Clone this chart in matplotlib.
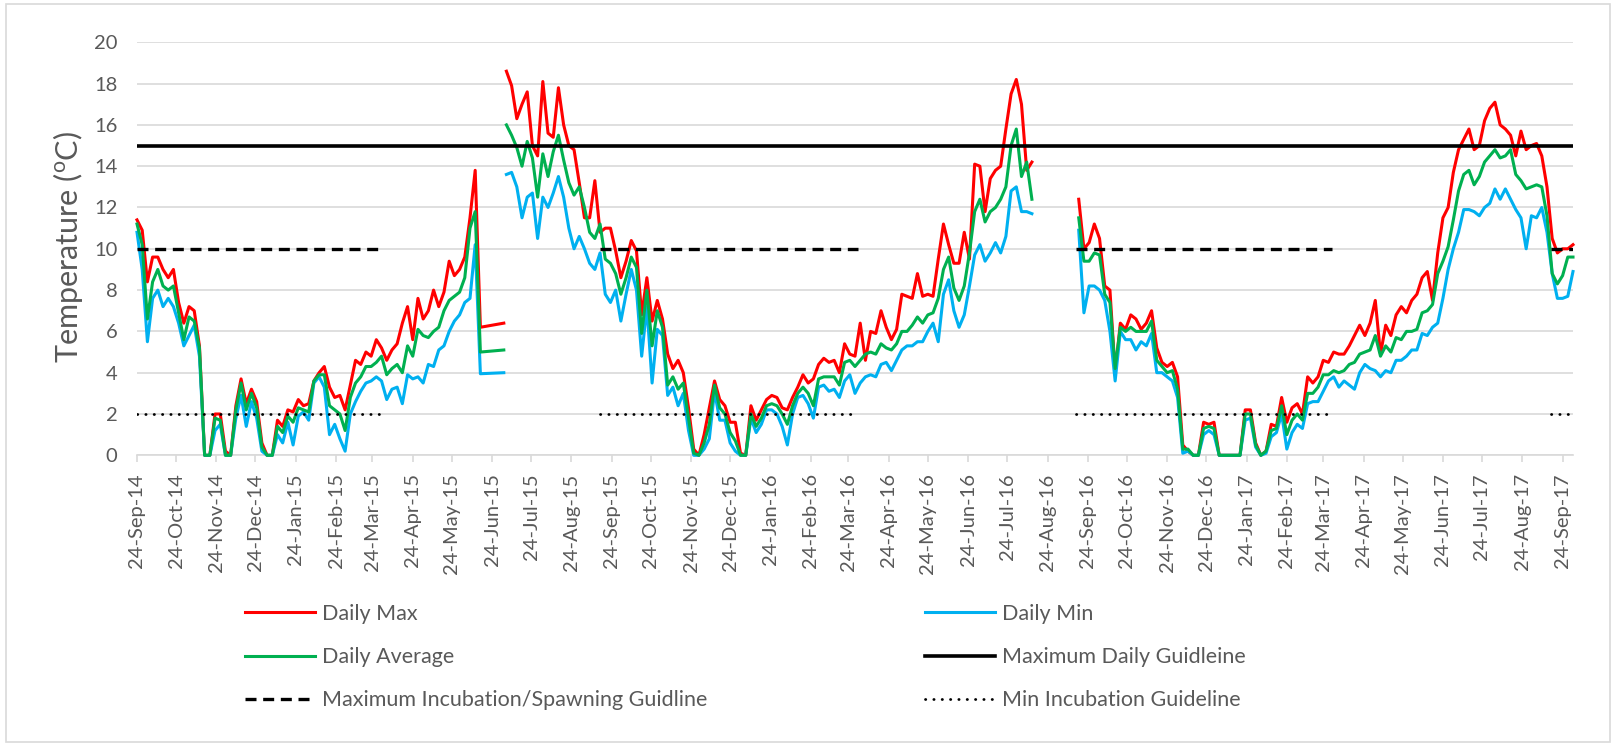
"""Daily water temperature, Sep-14 to Sep-17, with guideline lines."""

import datetime as dt
import numpy as np
import matplotlib
matplotlib.use("Agg")
import matplotlib.pyplot as plt
import matplotlib.dates as mdates
from matplotlib.patches import Rectangle

plt.rcParams['font.family'] = ['Lato', 'DejaVu Sans']
plt.rcParams['mathtext.fontset'] = 'custom'
plt.rcParams['mathtext.rm'] = 'Lato'

STEP = 4  # days between readings

# segment 1: 24-Sep-14 .. 15-Jun-15 every 4 days, then flat stretch to 3-Jul-15
seg1_start = dt.date(2014, 9, 24)
max1 = [11.4, 10.9, 8.4, 9.6, 9.6, 9.0, 8.6, 9.0, 7.4, 6.4,
        7.2, 7.0, 5.3, 0, 0, 2.0, 2.0, 0.2, 0, 2.4,
        3.7, 2.5, 3.2, 2.6, 0.6, 0, 0, 1.7, 1.4, 2.2,
        2.1, 2.7, 2.4, 2.5, 3.6, 4.0, 4.3, 3.3, 2.8, 2.9,
        2.2, 3.4, 4.6, 4.4, 5.0, 4.8, 5.6, 5.2, 4.6, 5.1,
        5.4, 6.4, 7.2, 5.6, 7.6, 6.6, 7.0, 8.0, 7.2, 7.9,
        9.4, 8.7, 9.0, 9.6, 11.5, 13.8, 6.2]
min1 = [10.8, 9.0, 5.5, 7.6, 8.0, 7.2, 7.6, 7.2, 6.4, 5.3,
        5.8, 6.3, 4.8, 0, 0, 1.2, 1.5, 0, 0, 1.8,
        2.9, 1.4, 2.6, 1.8, 0.2, 0, 0, 1.0, 0.6, 1.6,
        0.5, 1.9, 2.1, 1.7, 3.5, 3.8, 3.3, 1.0, 1.5, 0.8,
        0.2, 2.0, 2.6, 3.1, 3.5, 3.6, 3.8, 3.6, 2.7, 3.2,
        3.3, 2.5, 3.9, 3.7, 3.8, 3.5, 4.4, 4.3, 5.1, 5.3,
        6.0, 6.5, 6.8, 7.4, 7.6, 10.2, 3.95]
avg1 = [11.2, 10.2, 6.6, 8.4, 9.0, 8.2, 8.0, 8.2, 6.9, 5.6,
        6.7, 6.5, 5.2, 0, 0, 1.8, 1.7, 0, 0, 2.2,
        3.5, 2.2, 3.0, 2.3, 0.4, 0, 0, 1.4, 1.1, 1.9,
        1.6, 2.3, 2.2, 2.1, 3.6, 3.9, 3.9, 2.4, 2.2, 2.0,
        1.2, 2.8, 3.5, 3.8, 4.3, 4.3, 4.5, 4.8, 3.9, 4.2,
        4.4, 4.0, 5.3, 4.8, 6.1, 5.8, 5.7, 6.0, 6.2, 7.0,
        7.5, 7.7, 7.9, 8.6, 11.0, 11.8, 5.0]
flat_end = dt.date(2015, 7, 3)
max_flat, min_flat, avg_flat = 6.4, 4.0, 5.1

# segment 2: 5-Jul-15 .. 6-Aug-16
seg2_start = dt.date(2015, 7, 5)
max2 = [18.6, 17.9, 16.3, 17.0, 17.6, 15.0, 14.5, 18.1, 15.6, 15.4,
        17.8, 16.0, 15.0, 14.8, 13.2, 11.5, 11.5, 13.3, 10.8, 11.0,
        11.0, 9.9, 8.6, 9.4, 10.4, 9.9, 6.8, 8.6, 6.5, 7.5,
        6.6, 4.9, 4.2, 4.6, 4.0, 2.3, 0.3, 0, 1.0, 2.3,
        3.6, 2.7, 2.4, 1.6, 1.6, 0.1, 0, 2.4, 1.7, 2.2,
        2.7, 2.9, 2.8, 2.3, 2.2, 2.8, 3.3, 3.9, 3.5, 3.7,
        4.4, 4.7, 4.5, 4.6, 4.0, 5.4, 4.9, 4.8, 6.4, 4.6,
        6.0, 5.9, 7.0, 6.2, 5.6, 6.1, 7.8, 7.7, 7.6, 8.8,
        7.7, 7.8, 7.7, 9.5, 11.2, 10.2, 9.3, 9.3, 10.8, 9.5,
        14.1, 14.0, 11.8, 13.4, 13.8, 14.0, 15.8, 17.5, 18.2, 17.0,
        13.8, 14.2]
min2 = [13.6, 13.7, 13.0, 11.5, 12.5, 12.7, 10.5, 12.5, 12.0, 12.7,
        13.5, 12.5, 11.0, 10.0, 10.6, 10.0, 9.3, 9.0, 9.8, 7.8,
        7.4, 8.0, 6.5, 7.8, 9.0, 8.0, 4.8, 7.2, 3.5, 6.1,
        5.8, 2.9, 3.3, 2.4, 3.0, 1.2, 0, 0, 0.3, 0.8,
        3.1, 1.7, 1.7, 0.6, 0.2, 0, 0, 1.8, 1.1, 1.5,
        2.2, 2.2, 2.0, 1.4, 0.5, 2.0, 2.8, 2.9, 2.5, 1.8,
        3.3, 3.4, 3.1, 3.2, 2.8, 3.6, 3.9, 3.0, 3.5, 3.8,
        3.9, 3.8, 4.4, 4.5, 4.1, 4.6, 5.1, 5.3, 5.3, 5.5,
        5.5, 6.0, 6.4, 5.5, 7.8, 8.5, 7.0, 6.2, 6.8, 8.2,
        9.7, 10.2, 9.4, 9.8, 10.3, 9.8, 10.6, 12.8, 13.0, 11.8,
        11.8, 11.7]
avg2 = [16.0, 15.5, 14.9, 14.0, 15.2, 14.4, 12.5, 14.6, 13.5, 14.7,
        15.5, 14.3, 13.2, 12.6, 13.0, 12.0, 10.8, 10.5, 11.2, 9.5,
        9.3, 8.8, 7.8, 8.6, 9.6, 9.1, 5.9, 8.0, 5.3, 7.0,
        6.2, 3.4, 3.8, 3.2, 3.5, 1.8, 0.1, 0, 0.6, 1.5,
        3.4, 2.3, 2.0, 1.1, 0.7, 0, 0, 2.0, 1.4, 1.8,
        2.4, 2.5, 2.4, 2.0, 1.5, 2.4, 3.0, 3.3, 3.0, 2.4,
        3.7, 3.8, 3.8, 3.8, 3.4, 4.5, 4.6, 4.3, 4.6, 4.9,
        5.0, 4.9, 5.4, 5.2, 5.1, 5.4, 6.0, 6.0, 6.3, 6.7,
        6.4, 6.8, 6.9, 7.6, 9.0, 9.6, 8.1, 7.5, 8.2, 9.8,
        11.8, 12.4, 11.3, 11.8, 12.0, 12.4, 13.0, 15.0, 15.8, 13.5,
        14.2, 12.4]

# segment 3: 17-Sep-16 .. 2-Oct-17
seg3_start = dt.date(2016, 9, 17)
max3 = [12.4, 10.0, 10.3, 11.2, 10.5, 8.2, 8.0, 4.0, 6.4, 6.1,
        6.8, 6.6, 6.1, 6.4, 7.0, 5.2, 4.5, 4.3, 4.5, 3.8,
        0.5, 0.2, 0, 0, 1.6, 1.5, 1.6, 0, 0, 0,
        0, 0, 2.2, 2.2, 0.6, 0, 0.2, 1.5, 1.4, 2.8,
        1.6, 2.3, 2.5, 2.0, 3.8, 3.5, 3.8, 4.6, 4.5, 5.0,
        4.9, 4.9, 5.3, 5.8, 6.3, 5.8, 6.4, 7.5, 4.9, 6.3,
        5.8, 6.8, 7.2, 6.9, 7.5, 7.8, 8.6, 8.9, 7.5, 9.8,
        11.5, 12.0, 13.7, 14.8, 15.3, 15.8, 14.8, 15.0, 16.2, 16.8,
        17.1, 16.0, 15.8, 15.5, 14.5, 15.7, 14.8, 15.0, 15.1, 14.5,
        13.0, 10.5, 9.8, 10.0, 10.0, 10.2]
min3 = [10.9, 6.9, 8.2, 8.2, 8.0, 7.5, 6.0, 3.6, 6.0, 5.6,
        5.6, 5.1, 5.5, 5.3, 5.9, 4.0, 4.0, 3.8, 3.6, 2.8,
        0.1, 0.2, 0, 0, 1.0, 1.2, 1.0, 0, 0, 0,
        0, 0, 1.7, 1.8, 0.4, 0, 0.1, 0.9, 1.1, 2.0,
        0.3, 1.1, 1.5, 1.3, 2.5, 2.6, 2.6, 3.1, 3.6, 3.8,
        3.3, 3.6, 3.4, 3.2, 4.0, 4.4, 4.2, 4.1, 3.8, 4.1,
        4.0, 4.6, 4.6, 4.8, 5.1, 5.1, 5.9, 5.8, 6.2, 6.4,
        7.6, 9.0, 10.0, 10.8, 11.9, 11.9, 11.8, 11.6, 12.0, 12.2,
        12.9, 12.4, 12.9, 12.4, 11.9, 11.5, 10.0, 11.6, 11.5, 12.0,
        10.8, 8.8, 7.6, 7.6, 7.7, 8.9]
avg3 = [11.5, 9.4, 9.4, 9.8, 9.7, 7.8, 7.4, 4.2, 6.2, 6.0,
        6.2, 6.0, 6.0, 6.0, 6.5, 4.6, 4.3, 4.0, 4.1, 3.2,
        0.3, 0.3, 0, 0, 1.3, 1.4, 1.3, 0, 0, 0,
        0, 0, 2.0, 2.0, 0.5, 0, 0.2, 1.2, 1.3, 2.4,
        1.0, 1.7, 2.0, 1.7, 3.0, 3.0, 3.3, 3.9, 3.9, 4.1,
        4.0, 4.1, 4.4, 4.5, 4.9, 5.0, 5.1, 5.8, 4.8, 5.3,
        5.0, 5.7, 5.6, 6.0, 6.0, 6.1, 6.9, 7.0, 7.3, 8.8,
        9.4, 10.1, 11.4, 12.8, 13.6, 13.8, 13.1, 13.5, 14.2, 14.5,
        14.8, 14.4, 14.5, 14.8, 13.6, 13.3, 12.9, 13.0, 13.1, 13.0,
        11.6, 8.8, 8.3, 8.7, 9.6, 9.6]

# guidelines
max_daily = 15
max_incubation = 10
min_incubation = 2
incubation_periods = [(dt.date(2014, 9, 24), dt.date(2015, 3, 31)),
                      (dt.date(2015, 9, 15), dt.date(2016, 3, 31)),
                      (dt.date(2016, 9, 15), dt.date(2017, 3, 31)),
                      (dt.date(2017, 9, 15), dt.date(2017, 10, 2))]
x_end = dt.date(2017, 10, 2)

C_MAX, C_MIN, C_AVG = '#FF0000', '#00B0F0', '#00B050'
GRID = '#D9D9D9'
TXT = '#595959'
FS = 14.5
FS_LEG = 15.5


def dates(start, n):
    return np.datetime64(start) + np.arange(n) * STEP


fig = plt.figure(figsize=(16.16, 7.46), dpi=100)
ax = fig.add_axes([137/1616, 290.7/746, 1436/1616, 413/746])

d1 = np.append(dates(seg1_start, len(max1)), np.datetime64(flat_end))
d2 = dates(seg2_start, len(max2))
d3 = dates(seg3_start, len(max3))
segs = [(d1, max1 + [max_flat], min1 + [min_flat], avg1 + [avg_flat]),
        (d2, max2, min2, avg2),
        (d3, max3, min3, avg3)]
lw = 2.2
h = {}
for d, mx, mn, av in segs:
    h['max'], = ax.plot(d, mx, color=C_MAX, lw=lw, clip_on=False, zorder=3)
    h['min'], = ax.plot(d, mn, color=C_MIN, lw=lw, clip_on=False, zorder=4)
    h['avg'], = ax.plot(d, av, color=C_AVG, lw=lw, clip_on=False, zorder=5)

h['daily'] = ax.axhline(max_daily, color='black', lw=2.6, zorder=6)
for a, b in incubation_periods:
    h['inc'], = ax.plot([a, b], [max_incubation]*2, color='black', lw=2.4,
                        dashes=(3.3, 2.0), zorder=6)
    h['minc'], = ax.plot([a, b], [min_incubation]*2, color='black', lw=2.0,
                         dashes=(0.1, 2.9), dash_capstyle='round', zorder=6)

ax.set_xlim(np.datetime64(seg1_start), np.datetime64(x_end))
ax.set_ylim(0, 20)
ax.set_yticks(range(0, 21, 2))
ax.grid(axis='y', color=GRID, lw=1.2, zorder=0)
ax.set_axisbelow(True)
for s in ['top', 'right', 'left']:
    ax.spines[s].set_visible(False)
ax.spines['bottom'].set_color(GRID)
ax.spines['bottom'].set_linewidth(1.2)
ax.xaxis.set_major_locator(mdates.MonthLocator(bymonthday=24))
ax.xaxis.set_major_formatter(mdates.DateFormatter('%d-%b-%y'))
ax.tick_params(axis='x', colors=GRID, length=5, width=1.2, pad=8,
               labelcolor=TXT, labelsize=FS, labelrotation=90)
ax.tick_params(axis='y', length=0, pad=14, labelcolor=TXT, labelsize=FS)
fig.text(68/1616, 1 - 247/746, r'Temperature ($\mathregular{^o}$C)', color=TXT,
         fontsize=22, rotation=90, ha='center', va='center')

leg_kw = dict(frameon=False, fontsize=FS_LEG, handlelength=3.25,
              handletextpad=0.32, labelspacing=1.07, borderpad=0,
              borderaxespad=0, loc='upper left', labelcolor=TXT)
fig.legend([h['max'], h['avg'], h['inc']],
           ['Daily Max', 'Daily Average', 'Maximum Incubation/Spawning Guidline'],
           bbox_to_anchor=(245/1616, 1 - 604/746), **leg_kw)
fig.legend([h['min'], h['daily'], h['minc']],
           ['Daily Min', 'Maximum Daily Guidleine', 'Min Incubation Guideline'],
           bbox_to_anchor=(925/1616, 1 - 604/746), **leg_kw)

fig.patches.append(Rectangle((6/1616, 4/746), 1604/1616, 738/746,
                             transform=fig.transFigure, fill=False,
                             ec=GRID, lw=1.2))

fig.savefig('out.png', dpi=100)
